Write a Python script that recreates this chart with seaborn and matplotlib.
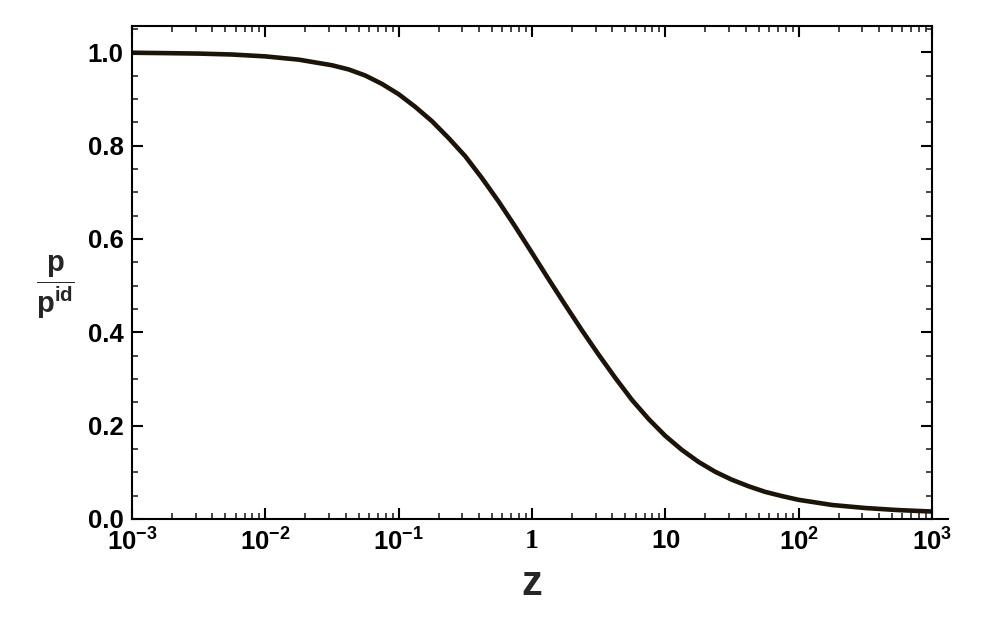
import numpy as np
import pandas as pd
import matplotlib
matplotlib.use("Agg")
import matplotlib.pyplot as plt
import seaborn as sns
from matplotlib.ticker import FixedLocator, LogLocator, NullFormatter, MultipleLocator

# Data (z on a log grid, p/p_id)
z_values = [0.001, 0.00178, 0.00316, 0.00562, 0.01, 0.0178, 0.0316, 0.0422, 0.0562,
            0.075, 0.1, 0.133, 0.178, 0.237, 0.316, 0.422, 0.562, 0.75, 1.0,
            1.33, 1.78, 2.37, 3.16, 4.22, 5.62, 7.5, 10.0, 13.3, 17.8, 23.7,
            31.6, 42.2, 56.2, 75.0, 100.0, 178.0, 316.0, 562.0, 1000.0]
p_ratio = [0.9988, 0.998, 0.997, 0.995, 0.991, 0.984, 0.972, 0.963, 0.950,
           0.932, 0.910, 0.883, 0.852, 0.816, 0.777, 0.730, 0.680, 0.626, 0.570,
           0.514, 0.458, 0.404, 0.352, 0.302, 0.255, 0.214, 0.178, 0.148, 0.122, 0.101,
           0.084, 0.070, 0.058, 0.049, 0.041, 0.030, 0.0235, 0.019, 0.016]
x_ticks = [1e-3, 1e-2, 1e-1, 1, 10, 1e2, 1e3]
x_tick_labels = [r"$\mathbf{10^{-3}}$", r"$\mathbf{10^{-2}}$", r"$\mathbf{10^{-1}}$", "1",
                 r"$\mathbf{10}$", r"$\mathbf{10^{2}}$", r"$\mathbf{10^{3}}$"]
y_ticks = [0.0, 0.2, 0.4, 0.6, 0.8, 1.0]
y_tick_labels = ["0.0", "0.2", "0.4", "0.6", "0.8", "1.0"]

sns.set_style("ticks")
plt.rcParams["font.family"] = ["Liberation Sans", "DejaVu Sans"]
plt.rcParams["font.weight"] = "bold"
plt.rcParams["mathtext.fontset"] = "custom"
plt.rcParams["mathtext.rm"] = "Liberation Sans:bold"
plt.rcParams["mathtext.bf"] = "Liberation Sans:bold"
plt.rcParams["mathtext.it"] = "Liberation Sans:bold"

df = pd.DataFrame({"z": z_values, "p": p_ratio})

fig = plt.figure(figsize=(10.05, 6.35), dpi=100)
ax = fig.add_axes([0.1313, 0.1827, 0.7961, 0.7763])

sns.lineplot(data=df, x="z", y="p", ax=ax, color="#1c1309", linewidth=3.3)

ax.set_xscale("log")
ax.set_xlim(1e-3, 1e3)
ax.set_ylim(0, 1.056)

ax.xaxis.set_major_locator(FixedLocator(x_ticks))
ax.set_xticklabels(x_tick_labels)
ax.xaxis.set_minor_locator(LogLocator(base=10, subs=np.arange(2, 10), numticks=20))
ax.xaxis.set_minor_formatter(NullFormatter())
ax.set_yticks(y_ticks)
ax.set_yticklabels(y_tick_labels)
ax.yaxis.set_minor_locator(MultipleLocator(0.05))

for lab in ax.get_xticklabels():
    lab.set_fontsize(18.5)
    lab.set_fontweight("bold")
    if lab.get_text() == "1":
        lab.set_family("Liberation Serif")
        lab.set_fontsize(20)
for lab in ax.get_yticklabels():
    lab.set_fontsize(18.5)
    lab.set_fontweight("bold")

ax.tick_params(axis="both", which="major", direction="in", length=8, width=1.5,
               top=True, right=True, pad=7, colors="black")
ax.tick_params(axis="both", which="minor", direction="in", length=4.5, width=1.2,
               top=True, right=True)
ax.tick_params(axis="y", which="major", pad=6)

for sp in ax.spines.values():
    sp.set_linewidth(1.5)
    sp.set_color("black")
ax.spines["bottom"].set_bounds(1e-3, 10 ** 3.12)

ax.set_xlabel("z", fontsize=30, fontweight="bold", labelpad=6)
ax.set_ylabel(r"$\dfrac{\mathbf{p}}{\mathbf{p^{id}}}$", fontsize=21, rotation=0,
              va="center", ha="center")
ax.yaxis.set_label_coords(-0.0955, 0.47)

fig.savefig("out.png", dpi=100, facecolor="white")
